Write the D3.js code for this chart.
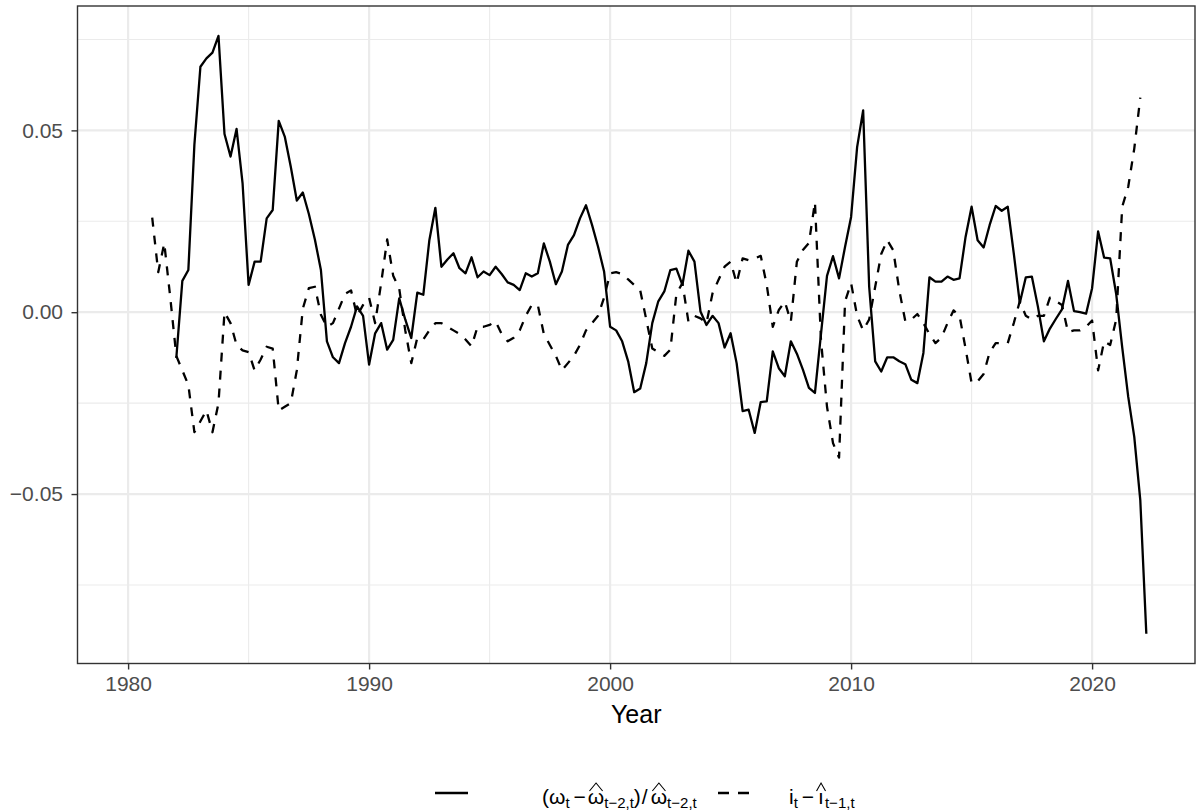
<!DOCTYPE html>
<html>
<head>
<meta charset="utf-8">
<script src="https://cdn.jsdelivr.net/npm/d3@7"></script>
<style>
  body { margin: 0; background: #fff; }
  svg { display: block; }
  text { font-family: "Liberation Sans", Arial, Helvetica, sans-serif; }
</style>
</head>
<body>
<svg id="chart"></svg>
<script>
// quarterly forecast errors
const wageStart = 1982; // first quarter of the wage series
const wageErr = [
  -0.0126, 0.0086, 0.0116, 0.046,    // 1982
  0.0675, 0.0698, 0.0714, 0.076,     // 1983
  0.049, 0.0428, 0.0504, 0.0354,     // 1984
  0.0075, 0.0139, 0.0139, 0.0258,    // 1985
  0.0281, 0.0526, 0.0483, 0.040,     // 1986
  0.0307, 0.0329, 0.027, 0.020,      // 1987
  0.0116, -0.008, -0.0124, -0.014,   // 1988
  -0.0085, -0.004, 0.0016, -0.001,   // 1989
  -0.0144, -0.0058, -0.003, -0.0103, // 1990
  -0.0076, 0.0038, -0.002, -0.0071,  // 1991
  0.0054, 0.0048, 0.0198, 0.0287,    // 1992
  0.0125, 0.0145, 0.0162, 0.0121,    // 1993
  0.0107, 0.0151, 0.0096, 0.0112,    // 1994
  0.0102, 0.0125, 0.0105, 0.0082,    // 1995
  0.0075, 0.0061, 0.0107, 0.0098,    // 1996
  0.0107, 0.0189, 0.0139, 0.0077,    // 1997
  0.0112, 0.0185, 0.0212, 0.0258,    // 1998
  0.0294, 0.024, 0.018, 0.0112,      // 1999
  -0.004, -0.005, -0.008, -0.0135,   // 2000
  -0.022, -0.021, -0.014, -0.003,    // 2001
  0.003, 0.0057, 0.0116, 0.012,      // 2002
  0.0075, 0.0169, 0.0139, 0.0002,    // 2003
  -0.0035, -0.001, -0.003, -0.0097,  // 2004
  -0.0058, -0.014, -0.0272, -0.0268, // 2005
  -0.0332, -0.0247, -0.0245, -0.0108,// 2006
  -0.0154, -0.0176, -0.008, -0.0114, // 2007
  -0.0158, -0.0208, -0.0222, -0.006, // 2008
  0.010, 0.0154, 0.0093, 0.018,      // 2009
  0.0262, 0.0454, 0.0555, 0.007,     // 2010
  -0.0135, -0.0163, -0.0124, -0.0124,// 2011
  -0.0135, -0.0143, -0.0186, -0.0195,// 2012
  -0.0112, 0.0096, 0.0084, 0.0084,   // 2013
  0.0098, 0.0089, 0.0093, 0.0207,    // 2014
  0.029, 0.0198, 0.0178, 0.024,      // 2015
  0.0292, 0.0279, 0.029, 0.0162,     // 2016
  0.0025, 0.0096, 0.0098, 0.0016,    // 2017
  -0.008, -0.0045, -0.0018, 0.0008,  // 2018
  0.0086, 0.0003, 0.0, -0.0004,      // 2019
  0.0066, 0.0222, 0.015, 0.0148,     // 2020
  0.005, -0.0097, -0.0233, -0.0343,  // 2021
  -0.0517, -0.0884                   // 2022
];

const rateStart = 1981; // first quarter of the interest rate series
const rateErr = [
  0.026, 0.011, 0.019, 0.004,        // 1981
  -0.012, -0.016, -0.020, -0.033,    // 1982
  -0.030, -0.027, -0.033, -0.025,    // 1983
  0.000, -0.003, -0.009, -0.0105,    // 1984
  -0.011, -0.016, -0.013, -0.0095,   // 1985
  -0.010, -0.027, -0.026, -0.025,    // 1986
  -0.016, 0.001, 0.0066, 0.007,      // 1987
  -0.0007, -0.004, -0.003, 0.001,    // 1988
  0.005, 0.006, -0.001, 0.002,       // 1989
  0.004, -0.003, 0.008, 0.020,       // 1990
  0.010, 0.0065, -0.005, -0.014,     // 1991
  -0.007, -0.0075, -0.005, -0.003,   // 1992
  -0.003, -0.004, -0.005, -0.006,    // 1993
  -0.0075, -0.0094, -0.004, -0.004,  // 1994
  -0.0035, -0.0025, -0.006, -0.008,  // 1995
  -0.007, -0.005, -0.001, 0.002,     // 1996
  0.002, -0.006, -0.009, -0.012,     // 1997
  -0.016, -0.014, -0.012, -0.009,    // 1998
  -0.005, -0.003, -0.001, 0.004,     // 1999
  0.0107, 0.011, 0.0105, 0.009,      // 2000
  0.0075, 0.006, -0.002, -0.010,     // 2001
  -0.011, -0.012, -0.0103, 0.005,    // 2002
  0.008, -0.0026, -0.001, -0.0017,   // 2003
  -0.003, 0.0052, 0.0089, 0.0125,    // 2004
  0.0139, 0.008, 0.0148, 0.0143,     // 2005
  0.0148, 0.0155, 0.0075, -0.004,    // 2006
  0.0006, 0.0029, -0.0026, 0.0139,   // 2007
  0.0171, 0.019, 0.0303, -0.0076,    // 2008
  -0.026, -0.036, -0.040, 0.003,     // 2009
  0.008, -0.001, -0.005, -0.002,     // 2010
  0.007, 0.016, 0.0198, 0.017,       // 2011
  0.006, -0.0025, -0.002, -0.0005,   // 2012
  -0.003, -0.006, -0.0085, -0.007,   // 2013
  -0.003, 0.0005, -0.001, -0.010,    // 2014
  -0.0195, -0.019, -0.017, -0.011,   // 2015
  -0.0085, -0.0085, -0.0085, -0.003, // 2016
  0.003, -0.001, -0.002, -0.001,     // 2017
  -0.001, 0.004, 0.003, 0.002,       // 2018
  -0.0055, -0.005, -0.005, -0.004,   // 2019
  -0.0023, -0.016, -0.008, -0.009,   // 2020
  -0.002, 0.029, 0.0345, 0.045,      // 2021
  0.059                              // 2022
];

const xTicks = [1980, 1990, 2000, 2010, 2020];
const xMinor = [1985, 1995, 2005, 2015];
const yTicks = [-0.05, 0, 0.05];
const yMinor = [-0.075, -0.025, 0.025, 0.075];

const width = 1200;
const height = 812;
const panel = { left: 77.5, right: 1195, top: 6, bottom: 663.5 };

const svg = d3.select("#chart").attr("width", width).attr("height", height);

const x = d3.scaleLinear().domain([1977.9, 2024.27]).range([panel.left, panel.right]);
const y = d3.scaleLinear().domain([-0.0966, 0.0842]).range([panel.bottom, panel.top]);

// turn a series into {year, value} points
const toPoints = (start, vals) => vals.map((v, i) => ({ year: start + i / 4, value: v }));
const wage = toPoints(wageStart, wageErr);
const rate = toPoints(rateStart, rateErr);

// grid
const grid = svg.append("g").attr("class", "grid");
grid.selectAll(".vminor").data(xMinor).join("line")
  .attr("x1", d => x(d)).attr("x2", d => x(d))
  .attr("y1", panel.top).attr("y2", panel.bottom)
  .attr("stroke", "#EBEBEB").attr("stroke-width", 1.1);
grid.selectAll(".hminor").data(yMinor).join("line")
  .attr("y1", d => y(d)).attr("y2", d => y(d))
  .attr("x1", panel.left).attr("x2", panel.right)
  .attr("stroke", "#EBEBEB").attr("stroke-width", 1.1);
grid.selectAll(".vmajor").data(xTicks).join("line")
  .attr("x1", d => x(d)).attr("x2", d => x(d))
  .attr("y1", panel.top).attr("y2", panel.bottom)
  .attr("stroke", "#EBEBEB").attr("stroke-width", 2.2);
grid.selectAll(".hmajor").data(yTicks).join("line")
  .attr("y1", d => y(d)).attr("y2", d => y(d))
  .attr("x1", panel.left).attr("x2", panel.right)
  .attr("stroke", "#EBEBEB").attr("stroke-width", 2.2);

// lines
const line = d3.line().x(d => x(d.year)).y(d => y(d.value));
svg.append("path").datum(wage)
  .attr("d", line).attr("fill", "none")
  .attr("stroke", "#000").attr("stroke-width", 2.3)
  .attr("stroke-linejoin", "round");
svg.append("path").datum(rate)
  .attr("d", line).attr("fill", "none")
  .attr("stroke", "#000").attr("stroke-width", 2.3)
  .attr("stroke-linejoin", "round")
  .attr("stroke-dasharray", "9,9");

// panel border
svg.append("rect")
  .attr("x", panel.left).attr("y", panel.top)
  .attr("width", panel.right - panel.left).attr("height", panel.bottom - panel.top)
  .attr("fill", "none").attr("stroke", "#333").attr("stroke-width", 1.4);

// axes
const xAxis = svg.append("g")
  .attr("transform", `translate(0,${panel.bottom})`)
  .call(d3.axisBottom(x).tickValues(xTicks).tickFormat(d3.format("d")).tickSize(6).tickPadding(7));
const yAxis = svg.append("g")
  .attr("transform", `translate(${panel.left},0)`)
  .call(d3.axisLeft(y).tickValues(yTicks).tickFormat(d => d3.format(".2f")(d).replace("-", "\u2212")).tickSize(6).tickPadding(8.5));

[xAxis, yAxis].forEach(g => {
  g.select(".domain").remove();
  g.selectAll(".tick line").attr("stroke", "#333").attr("stroke-width", 1.4);
  g.selectAll(".tick text").attr("fill", "#4D4D4D").style("font-size", "21px")
    .style("font-family", '"Liberation Sans", Arial, sans-serif');
});

svg.append("text")
  .attr("x", (panel.left + panel.right) / 2).attr("y", 723)
  .attr("text-anchor", "middle").style("font-size", "25px")
  .attr("fill", "#000").text("Year");

// legend
const legendY = 793;
const legend = svg.append("g").attr("class", "legend");
legend.append("line")
  .attr("x1", 435).attr("x2", 468).attr("y1", legendY).attr("y2", legendY)
  .attr("stroke", "#000").attr("stroke-width", 2.3);
legend.append("line")
  .attr("x1", 718).attr("x2", 750).attr("y1", legendY).attr("y2", legendY)
  .attr("stroke", "#000").attr("stroke-width", 2.3).attr("stroke-dasharray", "11,9");

// math label laid out run by run; hats drawn as a small chevron over the glyph
function mathLabel(x0, baseline, runs) {
  let cx = x0;
  runs.forEach(r => {
    cx += r.pre || 0;
    const t = legend.append("text")
      .attr("x", cx).attr("y", baseline + (r.sub ? 4 : 0))
      .style("font-size", (r.sub ? 15 : 21) + "px")
      .attr("fill", "#000").text(r.text);
    const w = t.node().getComputedTextLength();
    if (r.hat) {
      const mid = cx + w / 2;
      const half = Math.max(w * 0.4, 4.5);
      legend.append("path")
        .attr("d", `M${mid - half},${baseline - 13} L${mid},${baseline - 21} L${mid + half},${baseline - 13}`)
        .attr("fill", "none").attr("stroke", "#000").attr("stroke-width", 1.1);
    }
    cx += w + (r.post || 0);
  });
}
mathLabel(542, 804, [
  { text: "(" },
  { text: "\u03c9" },
  { text: "t", sub: true },
  { text: "\u2212", pre: 4, post: 2 },
  { text: "\u03c9", hat: true },
  { text: "t\u22122,t", sub: true },
  { text: ")" },
  { text: "/", pre: 1, post: 3 },
  { text: "\u03c9", hat: true },
  { text: "t\u22122,t", sub: true }
]);
mathLabel(789, 804, [
  { text: "i" },
  { text: "t", sub: true },
  { text: "\u2212", pre: 4, post: 4 },
  { text: "\u0131", hat: true, post: 1 },
  { text: "t\u22121,t", sub: true }
]);
</script>
</body>
</html>
